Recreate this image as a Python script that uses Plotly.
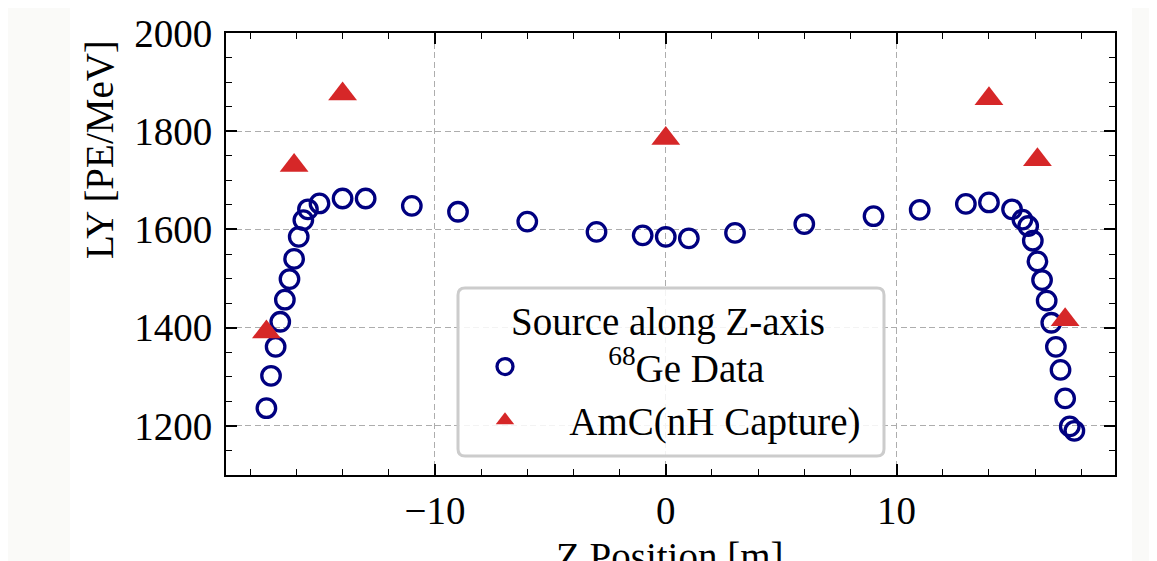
import plotly.graph_objects as go

# ---- data ----
ge_z = [-17.3, -17.1, -16.9, -16.7, -16.5, -16.3, -16.1, -15.9, -15.7, -15.5,
        -15.0, -14.0, -13.0, -11.0, -9.0, -6.0, -3.0, -1.0, 0.0, 1.0,
        3.0, 6.0, 9.0, 11.0, 13.0, 14.0, 15.0, 15.45, 15.7, 15.9,
        16.1, 16.3, 16.5, 16.7, 16.9, 17.1, 17.3, 17.5, 17.7]
ge_ly = [1236, 1302, 1361, 1412, 1457, 1499, 1540, 1585, 1619, 1641,
         1653, 1663, 1663, 1648, 1636, 1616, 1595, 1588, 1585, 1582,
         1593, 1611, 1627, 1640, 1652, 1655, 1641, 1620, 1607, 1577,
         1535, 1497, 1455, 1410, 1361, 1314, 1256, 1199, 1190]

amc_z = [-17.3, -16.1, -14.0, 0.0, 14.0, 16.1, 17.3]
amc_ly = [1391, 1730, 1876, 1785, 1866, 1742, 1416]

x_range = [-19.05, 19.46]
y_range = [1100, 2000]
x_tickvals = [-10, 0, 10]
y_tickvals = [1200, 1400, 1600, 1800, 2000]

FONT = "Liberation Serif"
FS = 39
NB = "\u00a0"

fig = go.Figure()
fig.add_trace(go.Scatter(
    x=ge_z, y=ge_ly, mode="markers",
    name=NB * 7 + "<sup>68</sup>Ge Data",
    marker=dict(symbol="circle-open", size=18.5, color="#000080",
                line=dict(width=3.3, color="#000080")),
))
fig.add_trace(go.Scatter(
    x=amc_z, y=amc_ly, mode="markers",
    name=NB * 3 + "AmC(nH Capture)",
    marker=dict(symbol="triangle-up", size=25, color="#d62728",
                line=dict(width=0)),
))

# page body offset of 8px: figure coords = screen coords - 8
OFF = 8
L, R, T, B = 226, 1115, 33, 475          # plot area in screen pixels
W, H = 1157 - OFF, 561 - OFF
pw, ph = R - L, B - T

def px(p):
    return (p - L) / pw

def py(p):
    return (B - p) / ph

# white page region (off-white strips at the sides)
fig.add_shape(type="rect", xref="paper", yref="paper",
              x0=px(70), x1=px(1132), y0=-1, y1=2,
              fillcolor="white", line=dict(width=0), layer="below")

# rounded legend frame
x0, x1 = px(458), px(884)
yt, yb = py(288), py(456)
rx, ry = 7 / pw, 7 / ph
path = (f"M{x0+rx},{yb} L{x1-rx},{yb} Q{x1},{yb} {x1},{yb+ry} "
        f"L{x1},{yt-ry} Q{x1},{yt} {x1-rx},{yt} L{x0+rx},{yt} "
        f"Q{x0},{yt} {x0},{yt-ry} L{x0},{yb+ry} Q{x0},{yb} {x0+rx},{yb} Z")
fig.add_shape(type="path", xref="paper", yref="paper", path=path,
              fillcolor="rgba(255,255,255,0.85)",
              line=dict(color="#cccccc", width=3), layer="above")

# axis labels
fig.add_annotation(text="LY [PE/MeV]", xref="paper", yref="paper",
                   x=px(100), y=py(150), textangle=-90, showarrow=False,
                   xanchor="center", yanchor="middle",
                   font=dict(family=FONT, size=FS, color="black"))
fig.add_annotation(text="Z Position [m]", xref="paper", yref="paper",
                   x=px(670), y=py(533), showarrow=False,
                   xanchor="center", yanchor="top",
                   font=dict(family=FONT, size=FS, color="black"))

axis_common = dict(
    showline=True, linecolor="black", linewidth=2, mirror="ticks",
    ticks="inside", ticklen=11, tickwidth=1.6, tickcolor="black",
    showgrid=True, gridcolor="#adadad", gridwidth=1.4, griddash="6px,3.5px",
    zeroline=False, automargin=False,
    tickfont=dict(family=FONT, size=FS, color="black"),
)

fig.update_xaxes(range=x_range, tickvals=x_tickvals,
                 minor=dict(ticks="inside", ticklen=6, tickwidth=1.4,
                            tickcolor="black", dtick=2, showgrid=False),
                 ticklabelstandoff=0,
                 **axis_common)
fig.update_yaxes(range=y_range, tickvals=y_tickvals,
                 minor=dict(ticks="inside", ticklen=6, tickwidth=1.4,
                            tickcolor="black", dtick=50, showgrid=False),
                 ticklabelstandoff=4,
                 **axis_common)

fig.update_layout(
    width=W, height=H,
    margin=dict(l=L - OFF, r=W - (R - OFF), t=T - OFF, b=H - (B - OFF), pad=0),
    paper_bgcolor="#fafaf8", plot_bgcolor="white",
    font=dict(family=FONT, size=FS, color="black"),
    showlegend=True,
    legend=dict(
        x=px(470), y=py(284), xanchor="left", yanchor="top",
        bgcolor="rgba(0,0,0,0)", borderwidth=0,
        font=dict(family=FONT, size=FS, color="black"),
        title=dict(text="Source along Z-axis", side="top center",
                   font=dict(family=FONT, size=FS, color="black")),
        itemwidth=60,
    ),
)

fig.write_html("out.html")
